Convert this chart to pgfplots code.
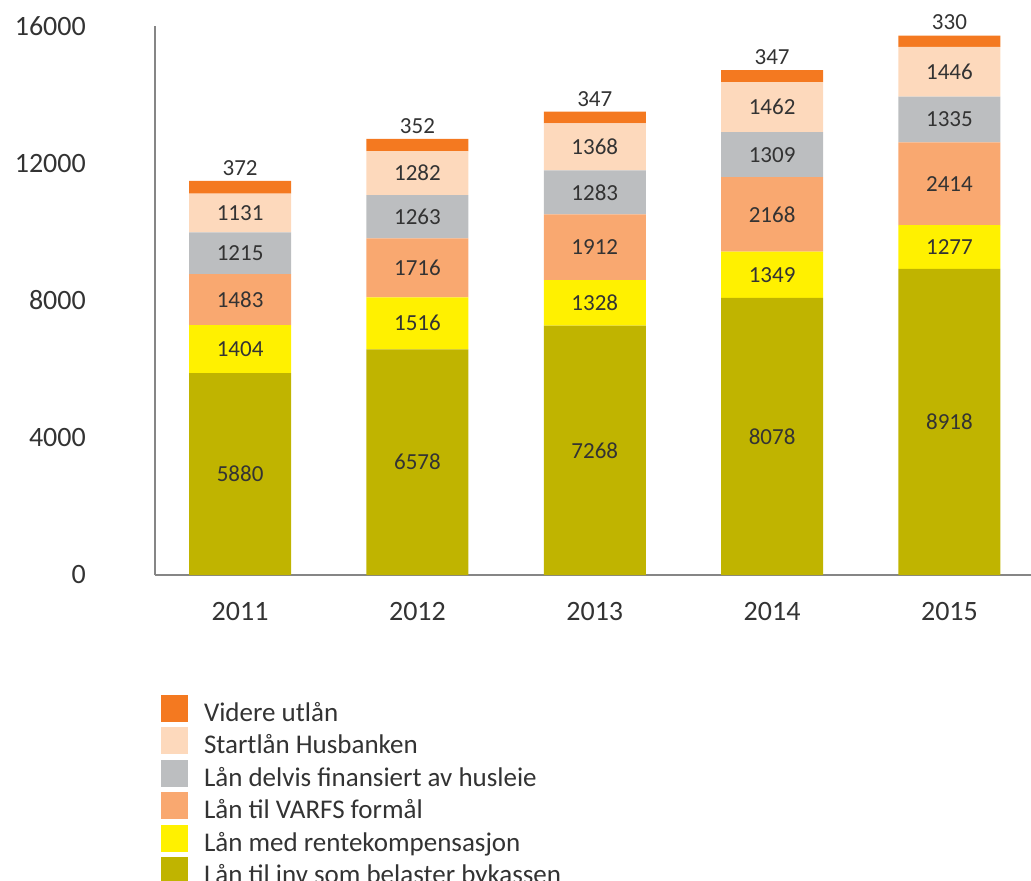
\documentclass[border=0pt]{standalone}
\usepackage{pgfplots}
\pgfplotsset{compat=1.18}
\usepackage{pgfplotstable}
\usepackage{fontspec}
\setmainfont{Carlito}

\definecolor{cVid}{HTML}{F47920}
\definecolor{cStart}{HTML}{FDD9BC}
\definecolor{cDelv}{HTML}{BCBEC0}
\definecolor{cVarfs}{HTML}{F9A870}
\definecolor{cRente}{HTML}{FFF100}
\definecolor{cInv}{HTML}{C0B400}
\definecolor{txt}{HTML}{333333}
\definecolor{axgray}{HTML}{868686}

% one row per year, values per series
\pgfplotstableread{
x  inv   rente varfs delvis start videre
0  5880  1404  1483  1215   1131  372
1  6578  1516  1716  1263   1282  352
2  7268  1328  1912  1283   1368  347
3  8078  1349  2168  1309   1462  347
4  8918  1277  2414  1335   1446  330
}\loans

\tikzset{lbl font/.style={font=\fontsize{23pt}{26pt}\selectfont, text=txt, inner sep=0pt}}

% labels sit in the middle of each segment; the top one above the bar
\pgfplotsset{
  mid lbl/.style={every node near coord/.style={lbl font, anchor=center}},
  top lbl/.style={every node near coord/.style={lbl font, anchor=south, yshift=11pt}},
  seg/.style={fill=#1, draw=none, forget plot},
}

\begin{document}
\begin{tikzpicture}
\useasboundingbox (0,0) rectangle (1031pt,881pt);
\begin{axis}[
  at={(155pt,306pt)}, anchor=south west,
  scale only axis, width=876pt, height=549pt,
  ybar stacked, bar width=102pt,
  xmin=-0.48, xmax=4.46, ymin=0, ymax=16000,
  axis lines*=left,
  axis line style={axgray, line width=1.5pt},
  xtick={0,1,2,3,4}, xticklabels={2011,2012,2013,2014,2015},
  ytick={0,4000,8000,12000,16000},
  scaled y ticks=false,
  major tick length=0pt, tick style={draw=none},
  /pgf/number format/1000 sep={},
  /pgf/number format/assume math mode=true,
  ticklabel style={font=\fontsize{28pt}{32pt}\selectfont, text=txt},
  yticklabel style={inner sep=0pt, xshift=-69pt},
  xticklabel style={yshift=-24pt},
  point meta=explicit,
  nodes near coords,
  legend cell align=left,
  legend image code/.code={\fill[#1,draw=none] (0pt,-7pt) rectangle (27pt,20pt);},
  legend style={at={(axis description cs:0.00685,-0.218)}, anchor=north west,
    draw=none, fill=none, inner sep=0pt, outer sep=0pt,
    font=\fontsize{27pt}{32pt}\selectfont, text=txt, row sep=-1pt,
    nodes={inner sep=0pt, text height=20pt, text depth=7pt},
    /tikz/every odd column/.append style={column sep=16pt}},
]
\addplot[seg=cInv, mid lbl] table[x=x,y=inv,meta=inv]{\loans};
\addplot[seg=cRente, mid lbl] table[x=x,y=rente,meta=rente]{\loans};
\addplot[seg=cVarfs, mid lbl] table[x=x,y=varfs,meta=varfs]{\loans};
\addplot[seg=cDelv, mid lbl] table[x=x,y=delvis,meta=delvis]{\loans};
\addplot[seg=cStart, mid lbl] table[x=x,y=start,meta=start]{\loans};
\addplot[seg=cVid, top lbl] table[x=x,y=videre,meta=videre]{\loans};

\addlegendimage{fill=cVid}
\addlegendentry{Videre utlån}
\addlegendimage{fill=cStart}
\addlegendentry{Startlån Husbanken}
\addlegendimage{fill=cDelv}
\addlegendentry{Lån delvis finansiert av husleie}
\addlegendimage{fill=cVarfs}
\addlegendentry{Lån til VARFS formål}
\addlegendimage{fill=cRente}
\addlegendentry{Lån med rentekompensasjon}
\addlegendimage{fill=cInv}
\addlegendentry{Lån til inv som belaster bykassen}
\end{axis}
\end{tikzpicture}
\end{document}
